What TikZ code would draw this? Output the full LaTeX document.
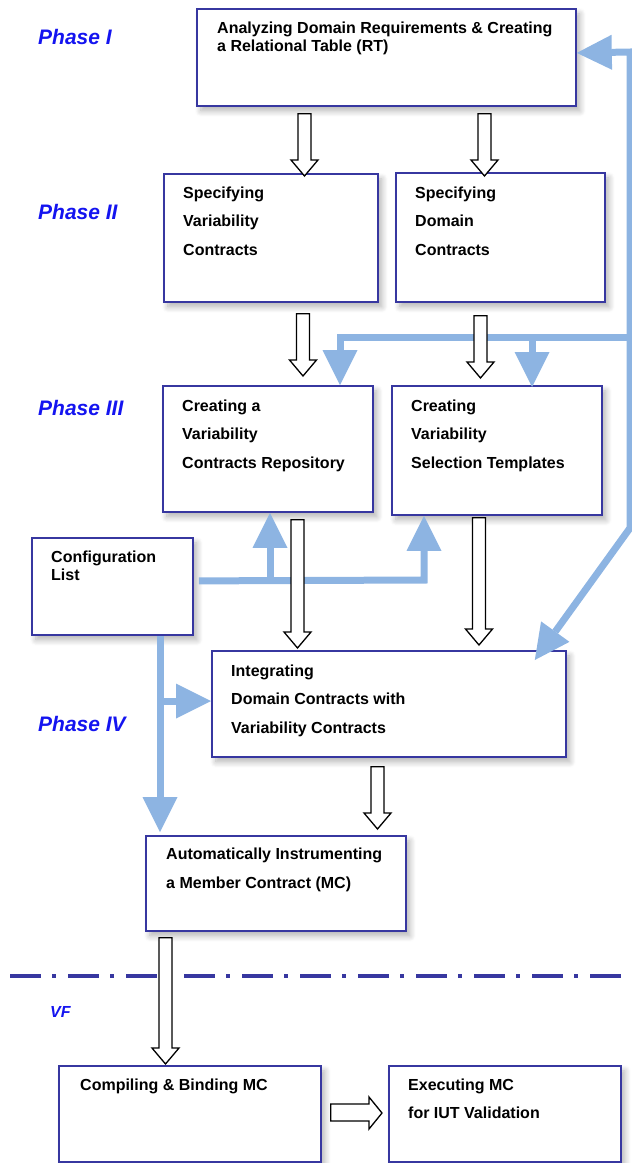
\documentclass[tikz,border=0pt]{standalone}
\usepackage{fontspec}
\setmainfont{Liberation Sans}
\usetikzlibrary{arrows.meta,calc,shadows.blur}
\definecolor{lblue}{RGB}{141,180,226}
\definecolor{bord}{RGB}{55,55,160}
\definecolor{phblue}{RGB}{20,20,240}
\tikzset{
  box/.style={draw=bord, line width=1.8pt, fill=white, anchor=north west, inner sep=0pt,
    blur shadow={shadow blur steps=8, shadow blur radius=6pt, shadow xshift=4pt, shadow yshift=-5pt, shadow opacity=30}},
  txt/.style={anchor=north west, inner sep=0pt, align=left, font=\bfseries\fontsize{16}{18}\selectfont},
  txtw/.style={txt, font=\bfseries\fontsize{16}{28.5}\selectfont},
  phase/.style={anchor=base west, inner sep=0pt, text=phblue, font=\bfseries\itshape\fontsize{21}{24}\selectfont},
  bl/.style={draw=lblue, line width=7pt, -{Triangle[length=35pt,width=35pt,line width=0pt]}},
  hollow/.style={draw=black, fill=white, line width=1.3pt, line join=miter},
  sep/.style={draw=bord, line width=4pt, dash pattern=on 31pt off 11pt on 4pt off 12pt}
}
% vertical hollow block arrow: x, from node, to node, top gap, tip offset
\newcommand\blkdown[5]{%
  \draw[hollow] let \p1=(#2.south), \p2=(#3.north) in
   (#1-6.5,\y1-#4) -- (#1+6.5,\y1-#4) -- (#1+6.5,\y2+#5+16pt) -- (#1+13.5,\y2+#5+16pt)
   -- (#1,\y2+#5) -- (#1-13.5,\y2+#5+16pt) -- (#1-6.5,\y2+#5+16pt) -- cycle;}
\begin{document}
\begin{tikzpicture}[x=1pt,y=-1pt]
\useasboundingbox (0,0) rectangle (632,1163);

% boxes
\node[box, minimum width=379, minimum height=97] (b1) at (196,8) {};
\node[box, minimum width=214, minimum height=128] (b2) at (163,173) {};
\node[box, minimum width=209, minimum height=129] (b3) at (395,172) {};
\node[box, minimum width=210, minimum height=126] (b4) at (162,385) {};
\node[box, minimum width=210, minimum height=129] (b5) at (391,385) {};
\node[box, minimum width=161, minimum height=97] (cfg) at (31,537) {};
\node[box, minimum width=354, minimum height=106] (int) at (211,650) {};
\node[box, minimum width=260, minimum height=95] (aut) at (145,835) {};
\node[box, minimum width=262, minimum height=96] (comp) at (58,1065) {};
\node[box, minimum width=232, minimum height=96] (exe) at (388,1065) {};

% texts
\node[txt] (t1) at (217,21.4) {Analyzing Domain Requirements \& Creating\\a Relational Table (RT)};
\node[txtw] (t2) at (183,186.4) {Specifying\\Variability\\Contracts};
\node[txtw] (t3) at (415,186.4) {Specifying\\Domain\\Contracts};
\node[txtw] (t4) at (182,399.4) {Creating a\\Variability\\Contracts Repository};
\node[txtw] (t5) at (411,399.4) {Creating\\Variability\\Selection Templates};
\node[txt] (tc) at (51,550.4) {Configuration\\List};
\node[txtw] (ti) at (231,664.4) {Integrating\\Domain Contracts with\\Variability Contracts};
\node[txt, font=\bfseries\fontsize{16}{29}\selectfont] (ta) at (166,847.4) {Automatically Instrumenting\\a Member Contract (MC)};
\node[txt] (tcomp) at (80,1078.4) {Compiling \& Binding MC};
\node[txtw] (te) at (408,1078.4) {Executing MC\\for IUT Validation};

% phase labels
\node[phase] (p1) at (38,44) {Phase I};
\node[phase] (p2) at (38,219) {Phase II};
\node[phase] (p3) at (38,415) {Phase III};
\node[phase] (p4) at (38,731) {Phase IV};
\node[phase, font=\bfseries\itshape\fontsize{16}{18}\selectfont] (vf) at (50,1017) {VF};

% separator
\draw[sep] (10,976) -- (632,976);

% blue feedback arrows (right side)
\coordinate (rtop) at (630,52);
\coordinate (rmid) at (630,337);
\coordinate (rbot) at (630,528);
\coordinate (j1) at (340,337);
\coordinate (j2) at (532,337);
\draw[bl] (rmid) -- (rtop) -- ([yshift=4.5pt]b1.east);
\draw[bl] (rmid) -- (rbot) -- ([shift={(-32,10)}]int.north east);
\draw[bl] (rmid) -- (j1) -- (j1 |- b4.north);
\draw[bl] (j2) -- ([yshift=-2pt]j2 |- b5.north);

% blue arrows from configuration list
\coordinate (c1) at ([shift={(5,-5.5)}]cfg.east);
\coordinate (j3) at (424,580);
\coordinate (j4) at (270,580);
\coordinate (j5) at (160,636);
\coordinate (j6) at (160,701);
\draw[bl] (c1) -- (j3) -- (j3 |- b5.south);
\draw[bl] (j4) -- (j4 |- b4.south);
\draw[bl] (j5) -- ([yshift=3pt]j5 |- aut.north);
\draw[bl] (j6) -- (j6 -| int.west);

% hollow block arrows
\blkdown{304.5}{b1}{b2}{7pt}{-3pt}
\blkdown{484.5}{b1}{b3}{7pt}{-4pt}
\blkdown{303}{b2}{b4}{11pt}{9pt}
\blkdown{480.5}{b3}{b5}{13pt}{7pt}
\blkdown{297.5}{b4}{int}{7pt}{2pt}
\blkdown{479}{b5}{int}{2pt}{5pt}
\blkdown{377.5}{int}{aut}{9pt}{6pt}
\blkdown{165.5}{aut}{comp}{6pt}{1pt}
\draw[hollow] let \p1=(comp.east), \p2=(exe.west) in
  (\x1+9pt,1104) -- (\x2-19pt,1104) -- (\x2-19pt,1097) -- (\x2-6pt,1113)
  -- (\x2-19pt,1129) -- (\x2-19pt,1121) -- (\x1+9pt,1121) -- cycle;
\end{tikzpicture}
\end{document}
